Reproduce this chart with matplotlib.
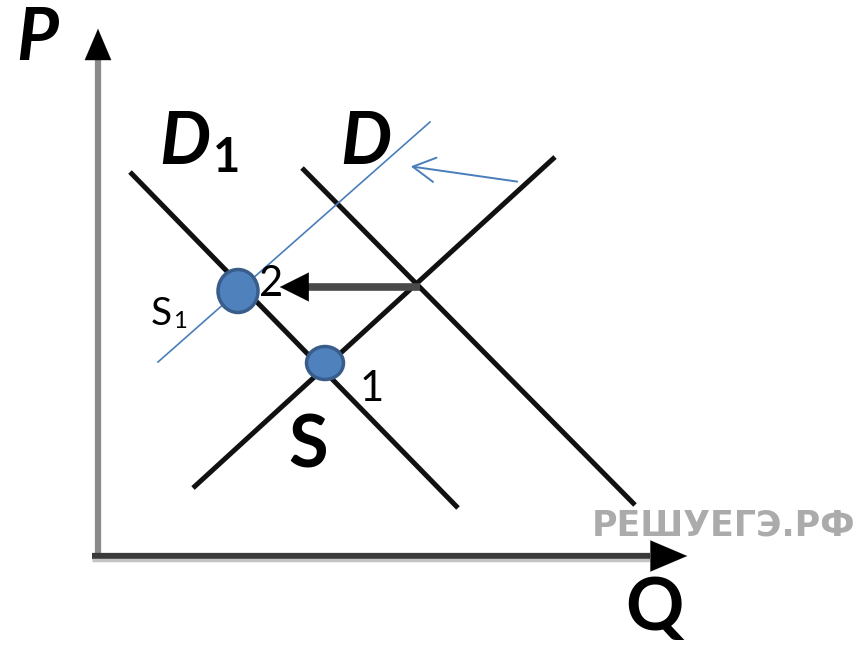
import matplotlib.pyplot as plt
from matplotlib.patches import Ellipse

# line endpoints (picture coords, y grows down)
D1_x, D1_y = [130, 458], [172, 508]
D_x, D_y = [302, 635], [168, 505]
S_x, S_y = [193, 555], [488, 157]
S1_x, S1_y = [158, 430], [362, 122]

# equilibrium points
pts_x = [238, 325]
pts_y = [291, 363]
pts_w = [40, 37]
pts_h = [43, 33]

# axes
p_axis = ([98, 98], [560, 26])
q_axis = ([92, 690], [556, 556])

# shift arrows
shift_x, shift_y = [420, 277], [287, 287]
blue_x, blue_y = [520, 408], [182, 166]

plt.rcParams['font.family'] = ['Lato', 'DejaVu Sans']

fig = plt.figure(figsize=(8.58, 6.46), dpi=100)
ax = fig.add_axes([0, 0, 1, 1])
ax.set_xlim(0, 858)
ax.set_ylim(646, 0)
ax.axis('off')

head = '-|>,head_length=0.4,head_width=0.17'

# P and Q axes
ax.plot(p_axis[0], [p_axis[1][0], 55], color='#8a8a8a', lw=4.5, solid_capstyle='butt')
ax.annotate('', xy=(p_axis[0][1], p_axis[1][1]), xytext=(p_axis[0][0], 62),
            arrowprops=dict(arrowstyle=head, color='black', lw=0.1, mutation_scale=56))
ax.plot([q_axis[0][0], 650], q_axis[1], color='#3a3a3a', lw=4.5, solid_capstyle='butt')
ax.plot([q_axis[0][0], 650], [q_axis[1][0] + 4] * 2, color='#c4c4c4', lw=2.5, solid_capstyle='butt')
ax.annotate('', xy=(q_axis[0][1], q_axis[1][1]), xytext=(645, q_axis[1][0]),
            arrowprops=dict(arrowstyle=head, color='black', lw=0.1, mutation_scale=66))

# demand and supply
for xs, ys in [(D1_x, D1_y), (D_x, D_y), (S_x, S_y)]:
    ax.plot(xs, ys, color='#111111', lw=3.6, solid_capstyle='butt')
ax.plot(S1_x, S1_y, color='#4a7ebb', lw=1.2)

# horizontal shift arrow
ax.plot([shift_x[0], shift_x[1] + 20], shift_y, color='#4a4a4a', lw=5.5, solid_capstyle='butt')
ax.annotate('', xy=(shift_x[1], shift_y[1]), xytext=(shift_x[1] + 35, shift_y[0]),
            arrowprops=dict(arrowstyle='-|>,head_length=0.4,head_width=0.2', color='black',
                            lw=0.1, mutation_scale=52))

# blue arrow
ax.annotate('', xy=(blue_x[1], blue_y[1]), xytext=(blue_x[0], blue_y[0]),
            arrowprops=dict(arrowstyle='->,head_length=0.4,head_width=0.22', color='#4a7ebb',
                            lw=1.4, mutation_scale=40))

for x, y, w, h in zip(pts_x, pts_y, pts_w, pts_h):
    ax.add_patch(Ellipse((x, y), w, h, facecolor='#4f81bd', edgecolor='#385d8a', lw=2.5, zorder=5))

# labels
big = 52
ax.text(37, 40, 'P', fontsize=big, style='italic', fontweight='bold', ha='center', va='center')
ax.text(185, 143, 'D', fontsize=big, style='italic', fontweight='bold', ha='center', va='center')
ax.text(227, 158, '1', fontsize=34, fontweight='bold', ha='center', va='center')
ax.text(366, 143, 'D', fontsize=big, style='italic', fontweight='bold', ha='center', va='center')
ax.text(308, 447, 'S', fontsize=big, fontweight='bold', ha='center', va='center')
ax.text(654, 610, 'Q', fontsize=big, fontweight='bold', ha='center', va='center')
ax.text(271, 284, '2', fontsize=30, ha='center', va='center', zorder=6)
ax.text(372, 389, '1', fontsize=30, ha='center', va='center')
ax.text(161, 314, 'S', fontsize=28, ha='center', va='center')
ax.text(180, 321, '1', fontsize=17, ha='center', va='center')
ax.text(724, 525, 'РЕШУЕГЭ.РФ', fontsize=25, color='#ababab', fontweight='bold',
        family='DejaVu Sans', ha='center', va='center')

fig.savefig('out.png', dpi=100)
